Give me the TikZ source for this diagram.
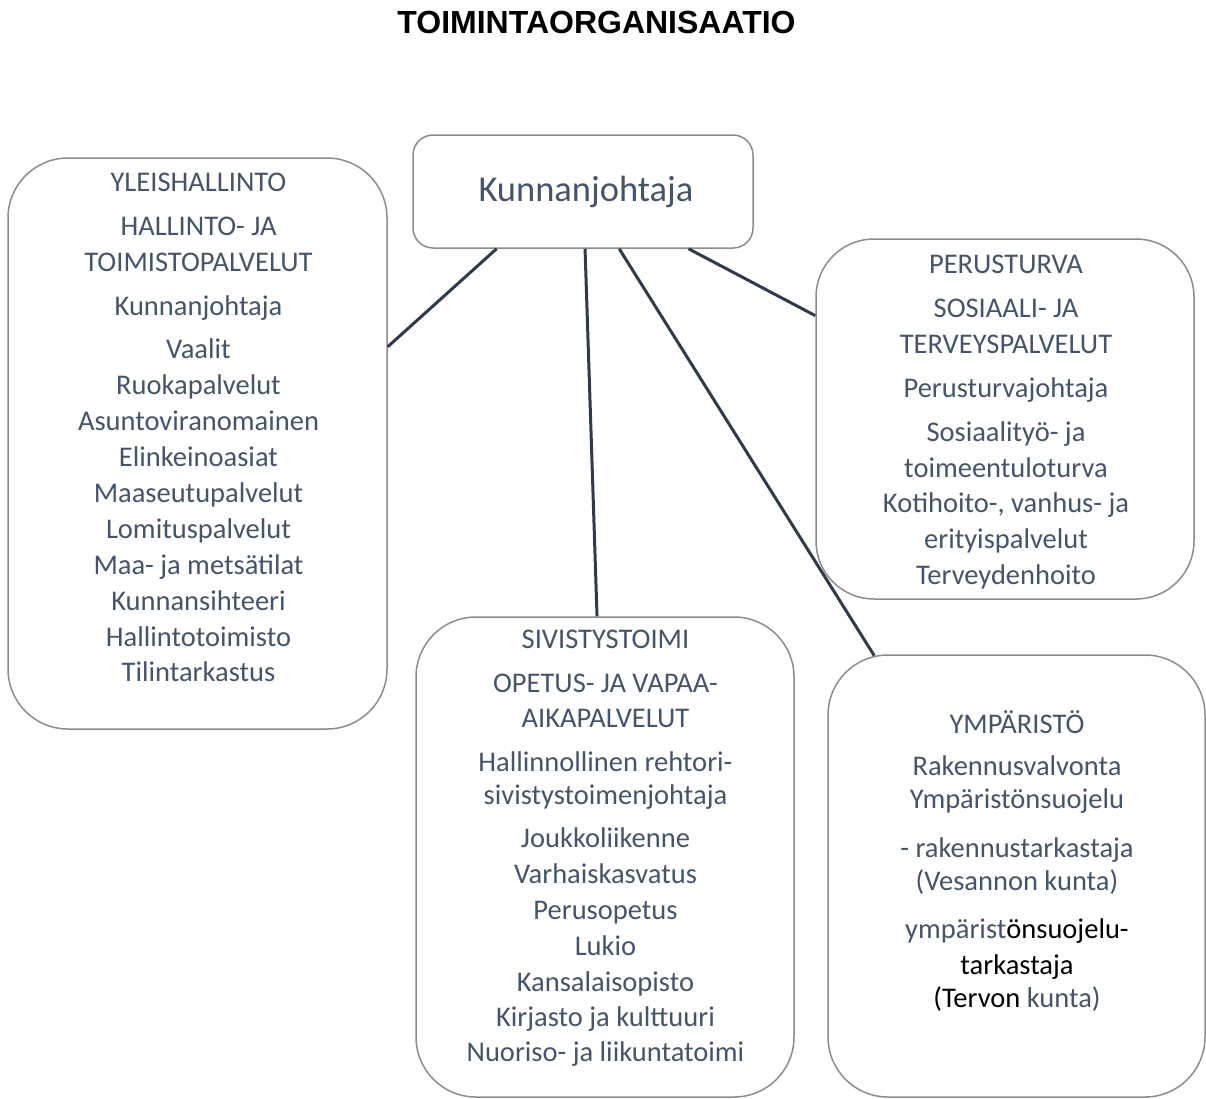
\documentclass[tikz,border=0pt]{standalone}
\usepackage{fontspec}
\setmainfont{Carlito}
\newfontfamily\otsikkofont{Liberation Sans}
\usetikzlibrary{calc}
\definecolor{tekstivari}{HTML}{44546A}
\definecolor{viivavari}{HTML}{2F3B4D}
\definecolor{reunavari}{HTML}{8C8C8C}
\begin{document}
\begin{tikzpicture}[x=1pt,y=-1pt,line join=round,
    laatikko/.style={draw=reunavari,line width=1.5pt,rounded corners=60pt,inner sep=0pt},
    viiva/.style={draw=viivavari,line width=3pt},
    teksti/.style={text=tekstivari,align=center,inner sep=0pt,anchor=north,font=\fontsize{28.5}{36}\selectfont}]
    \useasboundingbox (0,0) rectangle (1206,1098);
    \node[anchor=base,inner sep=0pt,font=\otsikkofont\bfseries\fontsize{32}{36}\selectfont] (otsikko) at (596.5,33) {TOIMINTAORGANISAATIO};
    % laatikot
    \node[laatikko,rounded corners=20pt,minimum width=340pt,minimum height=113pt,text=tekstivari,font=\fontsize{36.5}{44}\selectfont] (johtaja) at (583,191.5) {\hspace*{6pt}Kunnanjohtaja};
    \node[laatikko,minimum width=379pt,minimum height=571pt] (yleis) at (197.5,443.5) {};
    \node[laatikko,rounded corners=58pt,minimum width=378pt,minimum height=360pt] (perus) at (1005,419) {};
    \node[laatikko,minimum width=378pt,minimum height=480pt] (sivis) at (605,857) {};
    \node[laatikko,minimum width=377pt,minimum height=442pt] (ymp) at (1016.5,876) {};
    % tekstit
    \node[teksti] (yleisteksti) at (198.5,165.8) {\strut YLEISHALLINTO\\[8pt]
        HALLINTO- JA\\ TOIMISTOPALVELUT\\[8pt]
        Kunnanjohtaja\\[7pt] Vaalit\\ Ruokapalvelut\\ Asuntoviranomainen\\ Elinkeinoasiat\\
        Maaseutupalvelut\\ Lomituspalvelut\\ Maa- ja metsätilat\\ Kunnansihteeri\\
        Hallintotoimisto\\[-1pt] Tilintarkastus};
    \node[teksti] (perusteksti) at (1006,247.8) {\strut PERUSTURVA\\[8pt]
        SOSIAALI- JA\\ TERVEYSPALVELUT\\[8pt]
        Perusturvajohtaja\\[8pt] Sosiaalityö- ja\\ toimeentuloturva\\[-1pt]
        Kotihoito-, vanhus- ja\\ erityispalvelut\\ Terveydenhoito};
    \node[teksti] (sivisteksti) at (605.5,622.8) {\strut SIVISTYSTOIMI\\[8pt]
        OPETUS- JA VAPAA-\\[-1pt] AIKAPALVELUT\\[8pt]
        Hallinnollinen rehtori-\\[-3pt] sivistystoimenjohtaja\\[7pt]
        Joukkoliikenne\\ Varhaiskasvatus\\ Perusopetus\\ Lukio\\ Kansalaisopisto\\[-1pt]
        Kirjasto ja kulttuuri\\[-1pt] Nuoriso- ja liikuntatoimi};
    \node[teksti] (ympteksti) at (1017,707.8) {\strut YMPÄRISTÖ\\[6pt]
        Rakennusvalvonta\\[-3pt] Ympäristönsuojelu\\[13pt]
        - rakennustarkastaja\\[-3pt] (Vesannon kunta)\\[12pt]
        ympärist\textcolor{black}{önsuojelu-}\\ \textcolor{black}{tarkastaja}\\[-3pt]
        \textcolor{black}{(Tervon} kunta)};
    % viivat
    \draw[viiva] ($(johtaja.south west)!0.247!(johtaja.south east)$) -- ($(yleis.north east)!0.331!(yleis.south east)$);
    \draw[viiva] ($(johtaja.south west)!0.506!(johtaja.south east)$) -- ($(sivis.north west)!0.479!(sivis.north east)$);
    \draw[viiva] ($(johtaja.south west)!0.606!(johtaja.south east)$) -- ($(ymp.north west)+(47,1.4)$);
    \draw[viiva] ($(johtaja.south west)!0.809!(johtaja.south east)$) -- ($(perus.north west)!0.214!(perus.south west)$);
\end{tikzpicture}
\end{document}
